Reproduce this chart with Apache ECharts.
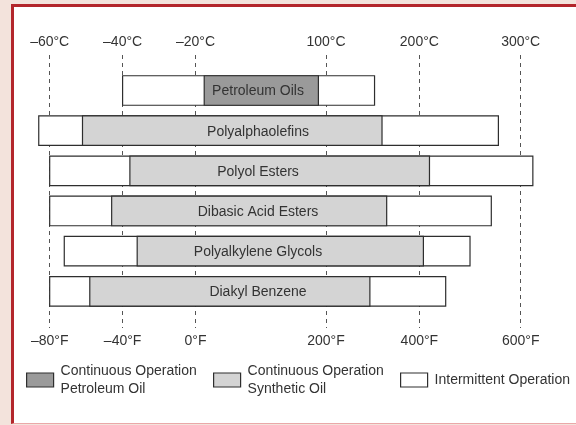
<!DOCTYPE html>
<html>
<head>
<meta charset="utf-8">
<script src="https://cdn.jsdelivr.net/npm/echarts@6/dist/echarts.min.js"></script>
<style>
  html, body { margin: 0; padding: 0; }
  body { width: 576px; height: 425px; background: #f3e3dc; position: relative; overflow: hidden; }
  #panel {
    position: absolute; left: 11px; top: 4px; width: 600px; height: 416px;
    background: #ffffff; border-left: 3px solid #b3262b; border-top: 3px solid #b3262b;
    border-bottom: 1px solid #eaa8a8;
  }
  #chart { position: absolute; left: 0; top: 0; width: 576px; height: 425px; }
</style>
</head>
<body>
<div id="panel"></div>
<div id="chart"></div>
<script>
// Lubricant base stocks and their usable temperature ranges (°C)
const categories = ['Petroleum Oils', 'Polyalphaolefins', 'Polyol Esters',
  'Dibasic Acid Esters', 'Polyalkylene Glycols', 'Diakyl Benzene'];
const oilType = ['petroleum', 'synthetic', 'synthetic', 'synthetic', 'synthetic', 'synthetic'];
const intermittentLow  = [-40, -63, -60, -60, -56, -60];
const continuousLow    = [-12, -51, -38, -43, -36, -49];
const continuousHigh   = [ 93, 160, 210, 165, 204, 147];
const intermittentHigh = [152, 278, 312, 271, 250, 226];

// Reference temperatures shown on both scales
const celsiusTicks = [-60, -40, -20, 100, 200, 300];
const celsiusLabels = ['\u201360°C', '\u201340°C', '\u201320°C', '100°C', '200°C', '300°C'];
const fahrenheitLabels = ['\u201380°F', '\u201340°F', '0°F', '200°F', '400°F', '600°F'];

// The temperature scale is stretched piecewise: each reference temperature
// sits at a fixed position along the axis.
const tickPositions = [0, 1, 2, 3.79, 5.07, 6.46];
function toAxis(c) {
  let i = 0;
  if (c >= celsiusTicks[celsiusTicks.length - 1]) i = celsiusTicks.length - 2;
  else while (i < celsiusTicks.length - 2 && c > celsiusTicks[i + 1]) i++;
  const c0 = celsiusTicks[i], c1 = celsiusTicks[i + 1];
  const p0 = tickPositions[i], p1 = tickPositions[i + 1];
  return p0 + (c - c0) / (c1 - c0) * (p1 - p0);
}
function tickIndex(v) {
  let best = 0;
  tickPositions.forEach((p, i) => { if (Math.abs(p - v) < Math.abs(tickPositions[best] - v)) best = i; });
  return best;
}

const FONT = '"Liberation Sans", Arial, Helvetica, sans-serif';
const TEXT = '#333333';
const EDGE = '#2e2e2e';
const NAME_PETRO = 'Continuous Operation\nPetroleum Oil';
const NAME_SYN = 'Continuous Operation\nSynthetic Oil';
const NAME_INT = 'Intermittent Operation';
const FILL = { petroleum: '#9a9a9a', synthetic: '#d4d4d4', intermittent: '#ffffff' };

function rangeData(lowArr, highArr, filter) {
  const out = [];
  categories.forEach((name, i) => {
    if (!filter || oilType[i] === filter) {
      out.push({ name: name, value: [toAxis(lowArr[i]), i, toAxis(highArr[i])] });
    }
  });
  return out;
}

function makeRenderer(fill, withLabel) {
  return function (params, api) {
    const a = api.coord([api.value(0), api.value(1)]);
    const b = api.coord([api.value(2), api.value(1)]);
    const h = api.size([0, 1])[1] * 0.735;
    const rect = {
      type: 'rect',
      shape: { x: a[0], y: a[1] - h / 2, width: b[0] - a[0], height: h },
      style: { fill: fill, stroke: EDGE, lineWidth: 1.2 }
    };
    if (!withLabel) return rect;
    const cs = params.coordSys;
    return {
      type: 'group',
      children: [rect, {
        type: 'text',
        style: {
          text: categories[api.value(1)],
          x: cs.x + cs.width * 0.4385, y: a[1] + 1,
          align: 'center', verticalAlign: 'middle',
          fontSize: 14, fontFamily: FONT, fill: TEXT
        }
      }]
    };
  };
}

function legendAt(left, top, name, color, padding) {
  return {
    left: left, top: top, padding: 0, orient: 'horizontal',
    selectedMode: false, itemWidth: 27, itemHeight: 14,
    data: [{
      name: name, icon: 'rect',
      itemStyle: { color: color, borderColor: EDGE, borderWidth: 1.2 }
    }],
    textStyle: { fontSize: 14, fontFamily: FONT, color: TEXT, lineHeight: 18, padding: padding }
  };
}

const chart = echarts.init(document.getElementById('chart'), null, { renderer: 'canvas' });
const xAxisBase = {
  type: 'value', min: -0.27, max: 6.862,
  axisLine: { show: false }, axisTick: { show: false }, splitLine: { show: false }
};
chart.setOption({
  animation: false,
  backgroundColor: 'transparent',
  grid: { left: 30, right: 26, top: 55, bottom: 97 },
  xAxis: [
    Object.assign({}, xAxisBase, {
      position: 'top',
      axisLabel: {
        customValues: tickPositions, margin: 6, fontSize: 14, fontFamily: FONT, color: TEXT,
        formatter: v => celsiusLabels[tickIndex(v)]
      }
    }),
    Object.assign({}, xAxisBase, {
      position: 'bottom',
      axisLabel: {
        customValues: tickPositions, margin: 6, fontSize: 14, fontFamily: FONT, color: TEXT,
        formatter: v => fahrenheitLabels[tickIndex(v)]
      }
    })
  ],
  yAxis: { type: 'value', inverse: true, min: -0.884, max: 5.914, show: false },
  legend: [
    legendAt(26, 357, NAME_PETRO, FILL.petroleum, [10, 0, 0, 2]),
    legendAt(213, 357, NAME_SYN, FILL.synthetic, [10, 0, 0, 2]),
    legendAt(400, 366, NAME_INT, FILL.intermittent, [0, 0, 10, 2])
  ],
  series: [
    {
      name: 'reference temperatures', type: 'line', data: [], z: 1,
      markLine: {
        z: 1, silent: true, symbol: 'none', label: { show: false },
        lineStyle: { type: [4, 4], color: '#555555', width: 1 },
        data: tickPositions.map(p => ({ xAxis: p }))
      }
    },
    {
      name: NAME_INT, type: 'custom', z: 2,
      itemStyle: { color: FILL.intermittent },
      renderItem: makeRenderer(FILL.intermittent, false),
      data: rangeData(intermittentLow, intermittentHigh)
    },
    {
      name: NAME_PETRO, type: 'custom', z: 3,
      itemStyle: { color: FILL.petroleum },
      renderItem: makeRenderer(FILL.petroleum, true),
      data: rangeData(continuousLow, continuousHigh, 'petroleum')
    },
    {
      name: NAME_SYN, type: 'custom', z: 3,
      itemStyle: { color: FILL.synthetic },
      renderItem: makeRenderer(FILL.synthetic, true),
      data: rangeData(continuousLow, continuousHigh, 'synthetic')
    }
  ]
});
</script>
</body>
</html>
